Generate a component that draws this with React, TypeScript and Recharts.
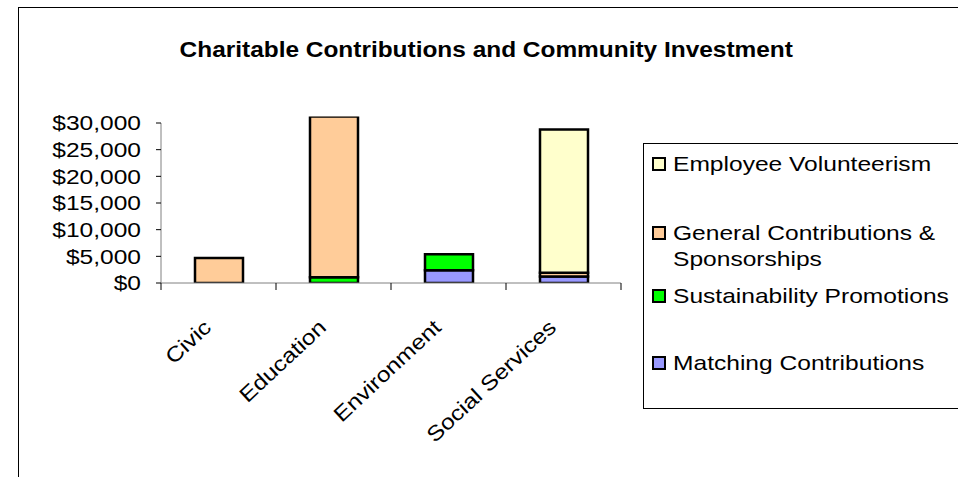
import { BarChart, Bar, XAxis, YAxis, Legend, ReferenceLine } from 'recharts'

// values (USD)
const categories = ['Civic', 'Education', 'Environment', 'Social Services']
const matchingContributions = [0, 0, 2400, 1200]
const sustainabilityPromotions = [0, 1100, 3000, 0]
const generalContributions = [4700, 31500, 0, 700]
const employeeVolunteerism = [0, 0, 0, 26900]
const yTicks = [0, 5000, 10000, 15000, 20000, 25000, 30000]

const seriesNames = {
  matching: 'Matching Contributions',
  sustainability: 'Sustainability Promotions',
  general: 'General Contributions & Sponsorships',
  volunteer: 'Employee Volunteerism',
}
const legendOrder = [seriesNames.volunteer, seriesNames.general, seriesNames.sustainability, seriesNames.matching]

const data = categories.map((name, i) => ({
  name,
  matching: matchingContributions[i],
  sustainability: sustainabilityPromotions[i],
  general: generalContributions[i],
  volunteer: employeeVolunteerism[i],
}))

const FONT = '"Liberation Sans", Arial, Helvetica, sans-serif'
// the source image is stretched sideways a little
const STRETCH = 1.17

function YTick(props: any) {
  const { x, y, payload } = props
  return (
    <text
      transform={`translate(${x},${y}) scale(${STRETCH},1)`}
      textAnchor="end"
      dy="0.35em"
      fontSize={21}
      fontFamily={FONT}
      fill="#000"
    >
      {'$' + Number(payload.value).toLocaleString('en-US')}
    </text>
  )
}

function XTick(props: any) {
  const { x, y, payload, index } = props
  const half = payload.offset ?? 57.5
  const axisY = y - 7
  return (
    <g>
      <line x1={x - half} x2={x - half} y1={axisY} y2={axisY + 7} stroke="#000" />
      {index === categories.length - 1 && (
        <line x1={x + half} x2={x + half} y1={axisY} y2={axisY + 7} stroke="#000" />
      )}
      <text
        transform={`translate(${x - 6},${axisY + 46}) rotate(-43) scale(${STRETCH},1)`}
        textAnchor="end"
        fontSize={21}
        fontFamily={FONT}
        fill="#000"
      >
        {payload.value}
      </text>
    </g>
  )
}

const legendGaps = [7, 43, 11, 41]

function LegendBox(props: any) {
  const payload: any[] = props.payload ?? []
  const items = legendOrder
    .map((name) => payload.find((p) => p.value === name))
    .filter(Boolean)
  return (
    <div
      style={{
        width: 320,
        height: 266,
        border: '1px solid #000',
        boxSizing: 'border-box',
        background: '#fff',
        fontFamily: FONT,
        fontSize: 21,
        lineHeight: '26px',
        color: '#000',
      }}
    >
      {items.map((item: any, i: number) => (
        <div key={item.value} style={{ display: 'flex', alignItems: 'flex-start', marginTop: legendGaps[i], paddingLeft: 8 }}>
          <span
            style={{
              display: 'inline-block',
              width: 14,
              height: 14,
              marginTop: 6,
              border: '2px solid #000',
              boxSizing: 'border-box',
              background: item.payload?.fill ?? item.color,
              flex: 'none',
            }}
          />
          <span
            style={{
              display: 'inline-block',
              width: 245,
              marginLeft: 7,
              transform: `scaleX(${STRETCH})`,
              transformOrigin: 'left top',
            }}
          >
            {item.value}
          </span>
        </div>
      ))}
    </div>
  )
}

export default function App() {
  return (
    <div style={{ position: 'absolute', left: 0, top: 0, width: 958, height: 477, overflow: 'hidden', background: '#fff' }}>
      <div
        style={{
          position: 'absolute',
          left: 18,
          top: 7,
          width: 960,
          height: 500,
          border: '1px solid #000',
        }}
      />
      <div
        style={{
          position: 'absolute',
          left: 18,
          top: 39,
          width: 936,
          textAlign: 'center',
          fontFamily: FONT,
          fontWeight: 'bold',
          fontSize: 22,
          lineHeight: '22px',
          color: '#000',
        }}
      >
        <span style={{ display: 'inline-block', transform: 'scaleX(1.11)' }}>
          Charitable Contributions and Community Investment
        </span>
      </div>
      <div style={{ position: 'absolute', left: 0, top: 0 }}>
        <BarChart
          width={958}
          height={477}
          data={data}
          margin={{ top: 116.6, right: 337, bottom: 164, left: 0 }}
          barSize={48}
        >
          <XAxis
            dataKey="name"
            height={30}
            axisLine={{ stroke: '#808080' }}
            tickLine={false}
            tickSize={7}
            tickMargin={0}
            interval={0}
            tick={<XTick />}
          />
          <YAxis
            width={161}
            domain={[0, 31200]}
            ticks={yTicks}
            allowDataOverflow
            axisLine={false}
            tickLine={{ stroke: '#000' }}
            tickSize={5}
            tickMargin={15}
            tick={<YTick />}
          />
          <ReferenceLine
            segment={[{ x: categories[0], y: 0 }, { x: categories[0], y: 30000 }]}
            position="start"
            stroke="#808080"
            ifOverflow="visible"
          />
          <Legend
            layout="vertical"
            align="center"
            verticalAlign="middle"
            wrapperStyle={{ left: 643, top: 143, width: 320 }}
            content={<LegendBox />}
          />
          <Bar dataKey="matching" name={seriesNames.matching} stackId="a" fill="#9999FF" stroke="#000" strokeWidth={2.5} isAnimationActive={false} />
          <Bar dataKey="sustainability" name={seriesNames.sustainability} stackId="a" fill="#00FF00" stroke="#000" strokeWidth={2.5} isAnimationActive={false} />
          <Bar dataKey="general" name={seriesNames.general} stackId="a" fill="#FFCC99" stroke="#000" strokeWidth={2.5} isAnimationActive={false} />
          <Bar dataKey="volunteer" name={seriesNames.volunteer} stackId="a" fill="#FFFFCC" stroke="#000" strokeWidth={2.5} isAnimationActive={false} />
        </BarChart>
      </div>
    </div>
  )
}
